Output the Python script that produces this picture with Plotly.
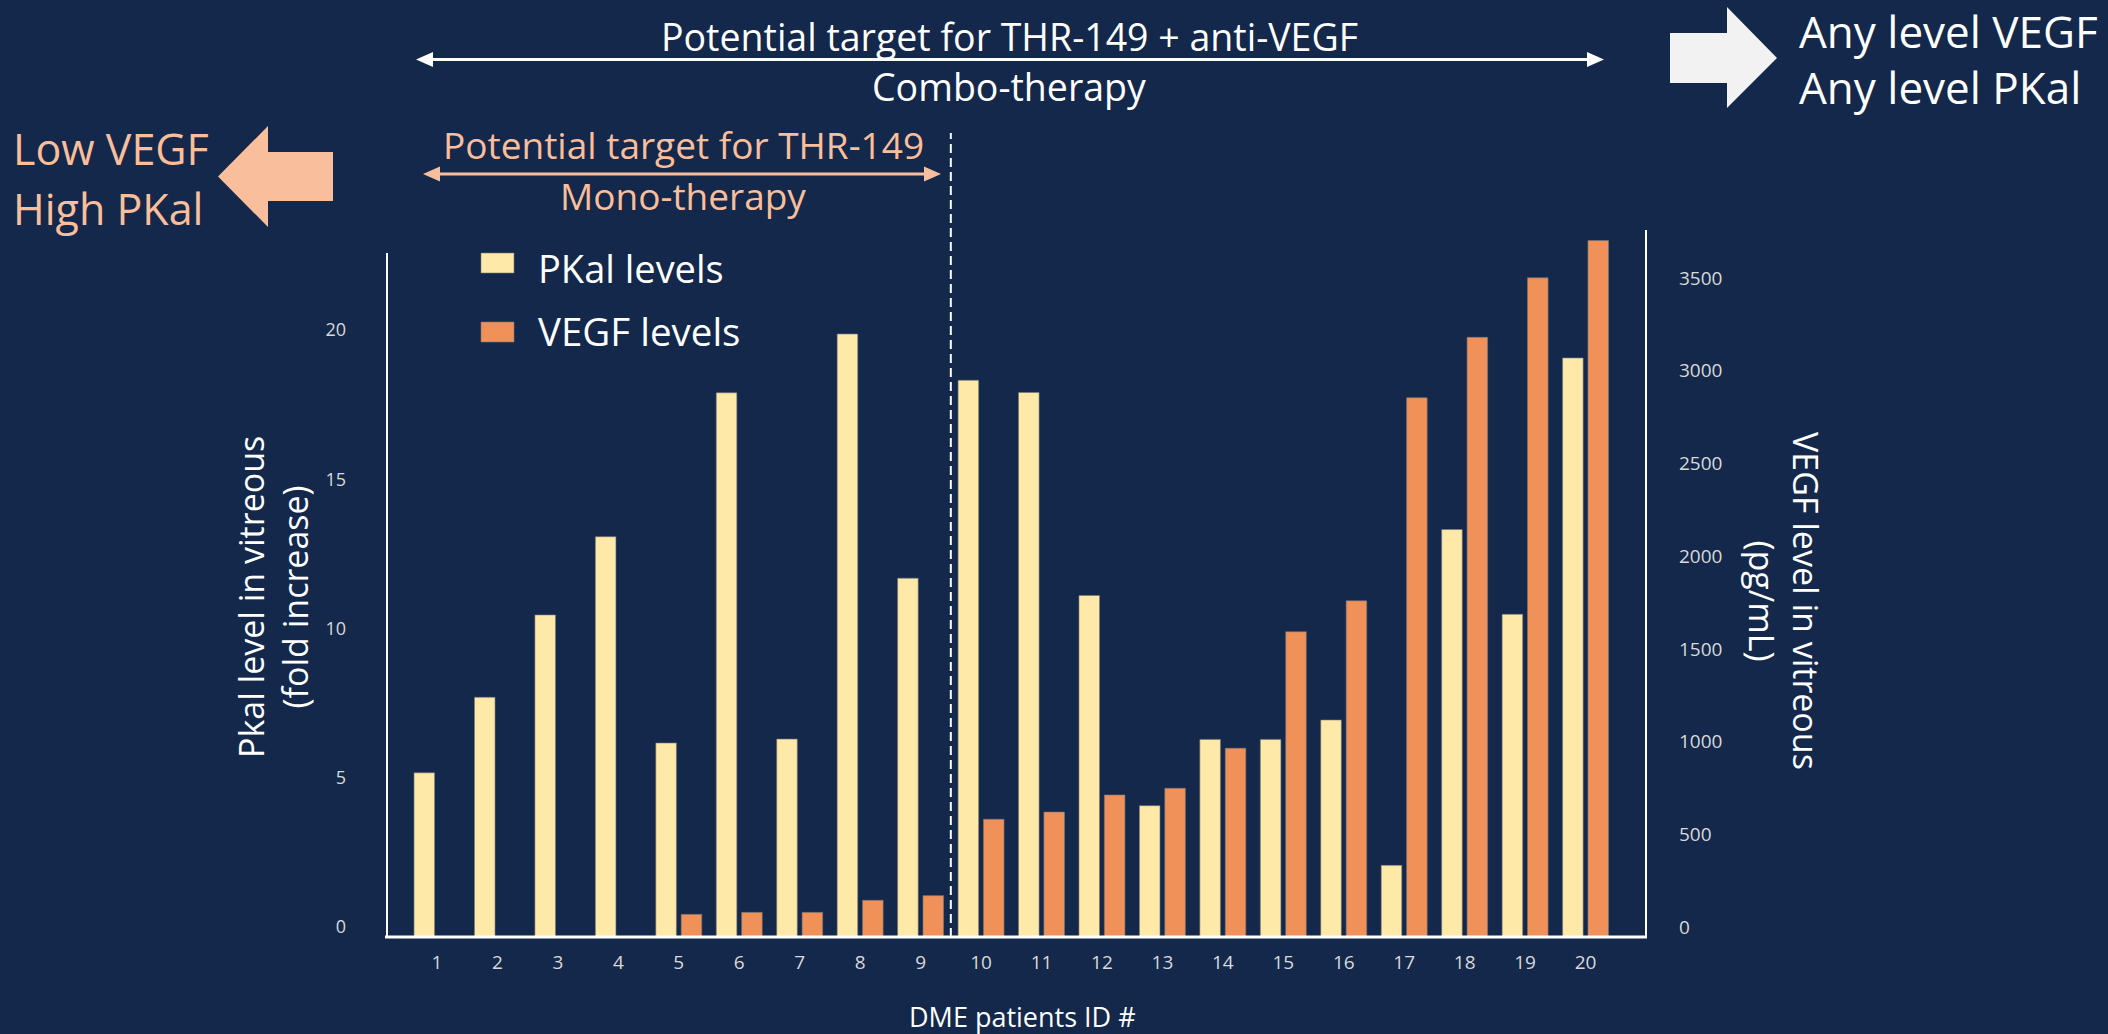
import plotly.graph_objects as go

# ---------------- data ----------------
patients = list(range(1, 21))
patient_labels = [str(p) for p in patients]
pkal_levels = [5.50, 8.03, 10.79, 13.41, 6.50, 18.23, 6.63, 20.20, 12.02, 18.65,
               18.24, 11.44, 4.40, 6.62, 6.62, 7.27, 2.40, 13.65, 10.81, 19.40]
vegf_levels = [None, None, None, None, 122, 133, 133, 198, 223, 635,
               674, 766, 802, 1018, 1646, 1813, 2908, 3234, 3555, 3756]
series_names = ["PKal levels", "VEGF levels"]
pkal_ticks = [0, 5, 10, 15, 20]
vegf_ticks = [0, 500, 1000, 1500, 2000, 2500, 3000, 3500]

# ---------------- style ----------------
BG = "#13284A"
PKAL_C = "#FFE9A8"
VEGF_C = "#F0915A"
PEACH = "#F9BE9B"
WHITE = "#FFFFFF"
TICK_C = "#D9D9D9"
FONT = "Open Sans"

W, H = 2108, 1034
L, R, T, B = 387, 462, 230, 97
PW, PH = W - L - R, H - T - B


def px(x):
    return (x - L) / PW


def py(y):
    return (H - B - y) / PH


def path(points):
    return "M " + " L ".join(f"{px(x):.5f},{py(y):.5f}" for x, y in points) + " Z"


fig = go.Figure()
fig.add_trace(go.Bar(x=patients, y=pkal_levels, name=series_names[0], yaxis="y",
                     width=0.34, offset=-0.38,
                     marker=dict(color=PKAL_C, line=dict(color="rgba(120,120,120,0.6)", width=1))))
fig.add_trace(go.Bar(x=patients, y=vegf_levels, name=series_names[1], yaxis="y2",
                     width=0.34, offset=0.04,
                     marker=dict(color=VEGF_C, line=dict(color="rgba(120,120,120,0.6)", width=1))))

shapes = []
# frame lines
shapes.append(dict(type="line", xref="paper", yref="paper", x0=px(387), x1=px(387), y0=0, y1=py(253),
                   line=dict(color=WHITE, width=2)))
shapes.append(dict(type="line", xref="paper", yref="paper", x0=px(1646), x1=px(1646), y0=0, y1=1,
                   line=dict(color=WHITE, width=2)))
shapes.append(dict(type="line", xref="paper", yref="paper", x0=px(385), x1=px(1647), y0=0, y1=0,
                   line=dict(color=WHITE, width=3)))
# dashed separator between patient 9 and 10
sep_x = (patients[8] + patients[9]) / 2
shapes.append(dict(type="line", xref="x", yref="paper", x0=sep_x, x1=sep_x, y0=0, y1=py(133),
                   line=dict(color=WHITE, width=2, dash="9px,5px")))
# white double arrow (combo therapy)
shapes.append(dict(type="line", xref="paper", yref="paper", x0=px(428), x1=px(1592), y0=py(59.5), y1=py(59.5),
                   line=dict(color=WHITE, width=3)))
shapes.append(dict(type="path", xref="paper", yref="paper", path=path([(416, 59.5), (433, 52), (433, 67)]),
                   fillcolor=WHITE, line=dict(width=0)))
shapes.append(dict(type="path", xref="paper", yref="paper", path=path([(1604, 59.5), (1587, 52), (1587, 67)]),
                   fillcolor=WHITE, line=dict(width=0)))
# peach double arrow (mono therapy)
shapes.append(dict(type="line", xref="paper", yref="paper", x0=px(435), x1=px(930), y0=py(174), y1=py(174),
                   line=dict(color=PEACH, width=3)))
shapes.append(dict(type="path", xref="paper", yref="paper", path=path([(423, 174), (440, 166.5), (440, 181.5)]),
                   fillcolor=PEACH, line=dict(width=0)))
shapes.append(dict(type="path", xref="paper", yref="paper", path=path([(941, 174), (924, 166.5), (924, 181.5)]),
                   fillcolor=PEACH, line=dict(width=0)))
# big peach left arrow
shapes.append(dict(type="path", xref="paper", yref="paper",
                   path=path([(218, 176.5), (268, 126), (268, 152), (333, 152), (333, 201), (268, 201), (268, 227)]),
                   fillcolor=PEACH, line=dict(width=0)))
# big white right arrow
shapes.append(dict(type="path", xref="paper", yref="paper",
                   path=path([(1670, 33), (1727, 33), (1727, 7), (1777, 58), (1727, 108), (1727, 83), (1670, 83)]),
                   fillcolor="#F2F2F2", line=dict(width=0)))
# legend swatches
shapes.append(dict(type="rect", xref="paper", yref="paper", x0=px(481), x1=px(514), y0=py(273), y1=py(253),
                   fillcolor=PKAL_C, line=dict(color="rgba(120,120,120,0.6)", width=1)))
shapes.append(dict(type="rect", xref="paper", yref="paper", x0=px(481), x1=px(514), y0=py(342), y1=py(322),
                   fillcolor=VEGF_C, line=dict(color="rgba(120,120,120,0.6)", width=1)))

annotations = []


def txt(text, x, y, size, color=WHITE, xanchor="center", yanchor="middle", angle=0):
    annotations.append(dict(text=text, x=px(x), y=py(y), xref="paper", yref="paper",
                            xanchor=xanchor, yanchor=yanchor, showarrow=False, textangle=angle,
                            font=dict(family=FONT, size=size, color=color)))


txt("Potential target for THR-149 + anti-VEGF", 1009, 36, 37.5)
txt("Combo-therapy", 1009, 86, 37.5)
txt("Potential target for THR-149", 683, 145, 37, PEACH)
txt("Mono-therapy", 683, 196, 37, PEACH)
txt("Low VEGF", 11, 148, 43, PEACH, xanchor="left")
txt("High PKal", 11, 209, 43, PEACH, xanchor="left")
txt("Any level VEGF", 1797, 31, 44, xanchor="left")
txt("Any level PKal", 1797, 87, 44, xanchor="left")
txt(series_names[0], 536, 268, 38, xanchor="left")
txt(series_names[1], 536, 331, 38.5, xanchor="left")
txt("Pkal level in vitreous<br>(fold increase)", 273, 597, 34, angle=-90)
txt("VEGF level in vitreous<br>(pg/mL)", 1784, 601, 34, angle=90)
txt("DME patients ID #", 1022, 1016, 27)

fig.update_layout(
    width=W, height=H,
    margin=dict(l=L, r=R, t=T, b=B, pad=0),
    paper_bgcolor=BG, plot_bgcolor=BG,
    font=dict(family=FONT, color=WHITE),
    barmode="overlay",
    showlegend=False,
    shapes=shapes,
    annotations=annotations,
    xaxis=dict(range=[0.173, 21.0], tickmode="array", tickvals=patients, ticktext=patient_labels,
               showgrid=False, zeroline=False, showline=False, ticks="",
               tickfont=dict(family=FONT, size=19, color=TICK_C), ticklabelstandoff=12),
    yaxis=dict(range=[0, PH / 29.85], tickmode="array", tickvals=pkal_ticks,
               showgrid=False, zeroline=False, showline=False, ticks="",
               tickfont=dict(family=FONT, size=18, color=TICK_C),
               ticklabelstandoff=40, ticklabelshift=-10),
    yaxis2=dict(range=[0, PH / 0.18543], tickmode="array", tickvals=vegf_ticks, overlaying="y", side="right",
                showgrid=False, zeroline=False, showline=False, ticks="",
                tickfont=dict(family=FONT, size=19, color=TICK_C),
                ticklabelstandoff=32, ticklabelshift=-10),
)

fig.write_html("out.html", config={"displayModeBar": False},
               post_script="document.body.style.margin='0';document.body.style.overflow='hidden';")
